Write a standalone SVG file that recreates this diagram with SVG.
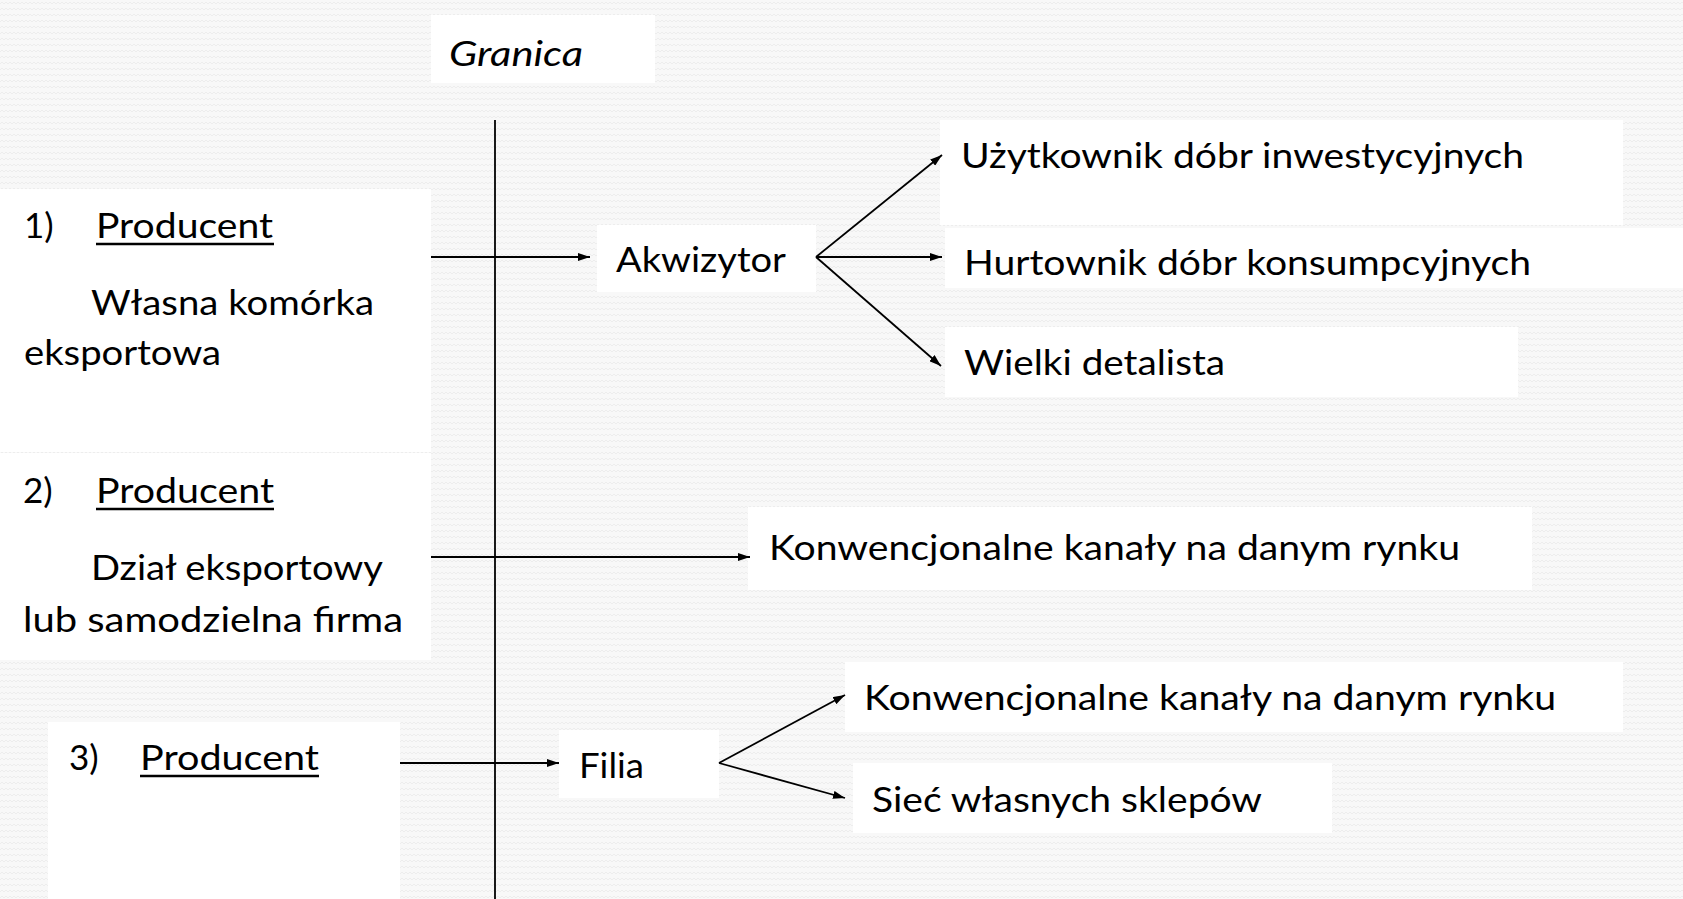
<svg xmlns="http://www.w3.org/2000/svg" width="1683" height="899" viewBox="0 0 1683 899">
<style>
  .box { fill: #ffffff; }
  .t { font-family: "Lato", "Open Sans", "Liberation Sans", sans-serif; font-size: 35px; fill: #000; }
  .it { font-style: italic; }
  .ul { stroke: #000; stroke-width: 2.5; }
  .con { stroke: #000; stroke-width: 1.8; fill: none; }
  .arr { marker-end: url(#ah); }
</style>
<defs>
  <pattern id="bg" width="8" height="6" patternUnits="userSpaceOnUse">
    <rect width="8" height="6" fill="#f8f8f8"/>
    <path d="M0,4 L2,2 L4,4 L6,2 L8,4" stroke="#ededed" stroke-width="1" fill="none"/>
  </pattern>
  <marker id="ah" markerWidth="12" markerHeight="8" refX="12" refY="4" orient="auto" markerUnits="userSpaceOnUse">
    <path d="M0,0 L12,4 L0,8 z" fill="#000"/>
  </marker>
</defs>
<rect width="1683" height="899" fill="url(#bg)"/>

<g id="granica">
  <rect class="box" x="431" y="15" width="224" height="68"/>
  <text class="t it" x="449" y="66" textLength="134" lengthAdjust="spacingAndGlyphs">Granica</text>
</g>

<g id="producent1">
  <rect class="box" x="0" y="189" width="431" height="263"/>
  <text class="t" x="24" y="238">1)</text>
  <text class="t" x="96" y="238" textLength="177" lengthAdjust="spacingAndGlyphs">Producent</text>
  <line class="ul" x1="96" y1="244" x2="274" y2="244"/>
  <text class="t" x="91" y="315" textLength="283" lengthAdjust="spacingAndGlyphs">Własna komórka</text>
  <text class="t" x="24" y="365" textLength="197" lengthAdjust="spacingAndGlyphs">eksportowa</text>
</g>

<g id="producent2">
  <rect class="box" x="0" y="453" width="431" height="207"/>
  <text class="t" x="23" y="503">2)</text>
  <text class="t" x="96" y="503" textLength="178" lengthAdjust="spacingAndGlyphs">Producent</text>
  <line class="ul" x1="96" y1="509" x2="274" y2="509"/>
  <text class="t" x="91" y="580" textLength="292" lengthAdjust="spacingAndGlyphs">Dział eksportowy</text>
  <text class="t" x="23" y="632" textLength="380" lengthAdjust="spacingAndGlyphs">lub samodzielna firma</text>
</g>

<g id="producent3">
  <rect class="box" x="48" y="722" width="352" height="177"/>
  <text class="t" x="69" y="770">3)</text>
  <text class="t" x="140" y="770" textLength="179" lengthAdjust="spacingAndGlyphs">Producent</text>
  <line class="ul" x1="140" y1="776" x2="319" y2="776"/>
</g>

<g id="akwizytor">
  <rect class="box" x="597" y="225" width="219" height="67"/>
  <text class="t" x="616" y="272" textLength="170" lengthAdjust="spacingAndGlyphs">Akwizytor</text>
</g>

<g id="uzytkownik">
  <rect class="box" x="940" y="120" width="683" height="105"/>
  <text class="t" x="961" y="168" textLength="563" lengthAdjust="spacingAndGlyphs">Użytkownik dóbr inwestycyjnych</text>
</g>

<g id="hurtownik">
  <rect class="box" x="945" y="228" width="738" height="60"/>
  <text class="t" x="964" y="275" textLength="567" lengthAdjust="spacingAndGlyphs">Hurtownik dóbr konsumpcyjnych</text>
</g>

<g id="detalista">
  <rect class="box" x="945" y="327" width="573" height="70"/>
  <text class="t" x="964" y="375" textLength="261" lengthAdjust="spacingAndGlyphs">Wielki detalista</text>
</g>

<g id="konwencjonalne1">
  <rect class="box" x="748" y="507" width="784" height="83"/>
  <text class="t" x="769" y="560" textLength="691" lengthAdjust="spacingAndGlyphs">Konwencjonalne kanały na danym rynku</text>
</g>

<g id="filia">
  <rect class="box" x="559" y="730" width="160" height="68"/>
  <text class="t" x="579" y="778" textLength="65" lengthAdjust="spacingAndGlyphs">Filia</text>
</g>

<g id="konwencjonalne2">
  <rect class="box" x="845" y="662" width="778" height="70"/>
  <text class="t" x="864" y="710" textLength="692" lengthAdjust="spacingAndGlyphs">Konwencjonalne kanały na danym rynku</text>
</g>

<g id="siec">
  <rect class="box" x="853" y="763" width="479" height="70"/>
  <text class="t" x="872" y="812" textLength="390" lengthAdjust="spacingAndGlyphs">Sieć własnych sklepów</text>
</g>

<g id="connectors">
  <line class="con" x1="495" y1="120" x2="495" y2="899"/>
  <line class="con arr" x1="431" y1="257" x2="590" y2="257"/>
  <line class="con arr" x1="816" y1="257" x2="942" y2="155"/>
  <line class="con arr" x1="816" y1="257" x2="942" y2="257"/>
  <line class="con arr" x1="816" y1="257" x2="941" y2="366"/>
  <line class="con arr" x1="431" y1="557" x2="750" y2="557"/>
  <line class="con arr" x1="400" y1="763" x2="559" y2="763"/>
  <line class="con arr" x1="719" y1="763" x2="845" y2="695"/>
  <line class="con arr" x1="719" y1="763" x2="845" y2="798"/>
</g>
</svg>
